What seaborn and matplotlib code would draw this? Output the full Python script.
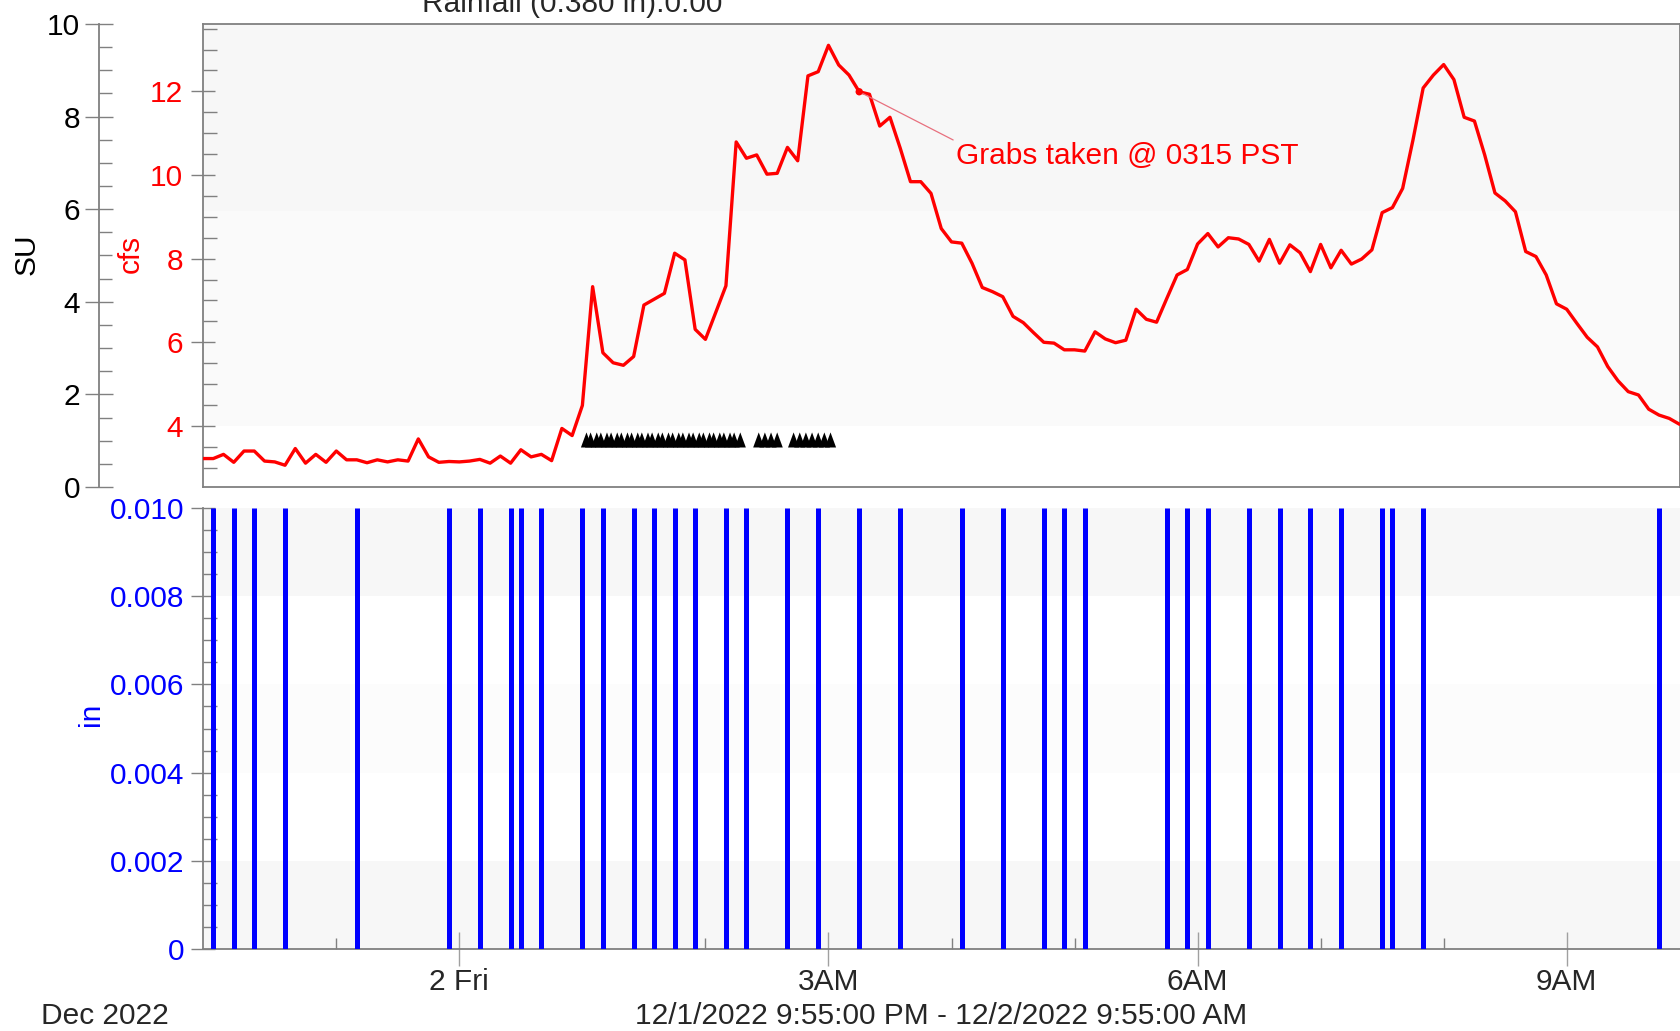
import numpy as np
import pandas as pd
import matplotlib
matplotlib.use("Agg")
import matplotlib.pyplot as plt
import matplotlib.dates as mdates
from matplotlib.ticker import MultipleLocator, FixedLocator, FixedFormatter, FuncFormatter
import seaborn as sns

# ---- data ----
# 5-minute flow record (cfs), 12/1/2022 21:55 -> 12/2/2022 09:55
flow_start = "2022-12-01 21:55"
flow_end = "2022-12-02 09:55"
flow_cfs = [
    3.22,                                                                          # 21:55
    3.22, 3.32, 3.13, 3.40, 3.40, 3.16, 3.14, 3.06, 3.46, 3.11, 3.32, 3.13,        # 22:00
    3.40, 3.19, 3.19, 3.12, 3.19, 3.14, 3.19, 3.16, 3.69, 3.26, 3.13, 3.15,        # 23:00
    3.14, 3.16, 3.20, 3.11, 3.28, 3.11, 3.43, 3.26, 3.32, 3.17, 3.94, 3.77,        # 00:00
    4.49, 7.33, 5.75, 5.51, 5.45, 5.66, 6.89, 7.03, 7.17, 8.13, 7.97, 6.31,        # 01:00
    6.07, 6.71, 7.35, 10.79, 10.40, 10.48, 10.02, 10.04, 10.66, 10.34, 12.37, 12.47,  # 02:00
    13.10, 12.63, 12.39, 11.99, 11.93, 11.17, 11.38, 10.64, 9.84, 9.84, 9.56, 8.72,   # 03:00
    8.40, 8.37, 7.89, 7.31, 7.21, 7.09, 6.62, 6.47, 6.23, 6.00, 5.98, 5.82,        # 04:00
    5.82, 5.79, 6.25, 6.08, 5.99, 6.05, 6.79, 6.55, 6.48, 7.05, 7.61, 7.74,        # 05:00
    8.35, 8.60, 8.28, 8.50, 8.47, 8.34, 7.94, 8.46, 7.89, 8.33, 8.14, 7.69,        # 06:00
    8.34, 7.78, 8.20, 7.87, 7.99, 8.21, 9.10, 9.22, 9.68, 10.83, 12.08, 12.39,     # 07:00
    12.64, 12.28, 11.38, 11.29, 10.48, 9.57, 9.38, 9.12, 8.17, 8.05, 7.61, 6.92,   # 08:00
    6.79, 6.45, 6.12, 5.89, 5.42, 5.08, 4.82, 4.74, 4.40, 4.26, 4.18, 4.04,        # 09:00
]

# rain gauge tips (0.01 in each)
rain_times = [
    "2022-12-01 22:00", "2022-12-01 22:10", "2022-12-01 22:20", "2022-12-01 22:35",
    "2022-12-01 23:10", "2022-12-01 23:55", "2022-12-02 00:10", "2022-12-02 00:25",
    "2022-12-02 00:30", "2022-12-02 00:40", "2022-12-02 01:00", "2022-12-02 01:10",
    "2022-12-02 01:25", "2022-12-02 01:35", "2022-12-02 01:45", "2022-12-02 01:55",
    "2022-12-02 02:10", "2022-12-02 02:20", "2022-12-02 02:40", "2022-12-02 02:55",
    "2022-12-02 03:15", "2022-12-02 03:35", "2022-12-02 04:05", "2022-12-02 04:25",
    "2022-12-02 04:45", "2022-12-02 04:55", "2022-12-02 05:05", "2022-12-02 05:45",
    "2022-12-02 05:55", "2022-12-02 06:05", "2022-12-02 06:25", "2022-12-02 06:40",
    "2022-12-02 06:55", "2022-12-02 07:10", "2022-12-02 07:30", "2022-12-02 07:35",
    "2022-12-02 07:50", "2022-12-02 09:45",
]
rain_in = [
    0.01, 0.01, 0.01, 0.01, 0.01, 0.01, 0.01, 0.01, 0.01, 0.01,
    0.01, 0.01, 0.01, 0.01, 0.01, 0.01, 0.01, 0.01, 0.01, 0.01,
    0.01, 0.01, 0.01, 0.01, 0.01, 0.01, 0.01, 0.01, 0.01, 0.01,
    0.01, 0.01, 0.01, 0.01, 0.01, 0.01, 0.01, 0.01,
]

# sampler events (black triangles)
sample_times = [
    "2022-12-02 01:02", "2022-12-02 01:04", "2022-12-02 01:07", "2022-12-02 01:09",
    "2022-12-02 01:12", "2022-12-02 01:14", "2022-12-02 01:17", "2022-12-02 01:19",
    "2022-12-02 01:22", "2022-12-02 01:24", "2022-12-02 01:27", "2022-12-02 01:29",
    "2022-12-02 01:32", "2022-12-02 01:34", "2022-12-02 01:37", "2022-12-02 01:39",
    "2022-12-02 01:42", "2022-12-02 01:44", "2022-12-02 01:47", "2022-12-02 01:49",
    "2022-12-02 01:52", "2022-12-02 01:54", "2022-12-02 01:57", "2022-12-02 01:59",
    "2022-12-02 02:02", "2022-12-02 02:04", "2022-12-02 02:07", "2022-12-02 02:09",
    "2022-12-02 02:12", "2022-12-02 02:14", "2022-12-02 02:17",
    "2022-12-02 02:26", "2022-12-02 02:29", "2022-12-02 02:32", "2022-12-02 02:35",
    "2022-12-02 02:43", "2022-12-02 02:46", "2022-12-02 02:49", "2022-12-02 02:52",
    "2022-12-02 02:55", "2022-12-02 02:58", "2022-12-02 03:01",
]

grab_time = "2022-12-02 03:15"
grab_label = "Grabs taken @ 0315 PST"
title_text = "Rainfall (0.380 in):0.00"
range_text = "12/1/2022 9:55:00 PM - 12/2/2022 9:55:00 AM"

x_major = ["2022-12-02 00:00", "2022-12-02 03:00", "2022-12-02 06:00", "2022-12-02 09:00"]
x_major_labels = ["2 Fri", "3AM", "6AM", "9AM"]

# ---- styling ----
sns.set_style("white")
plt.rcParams["font.family"] = ["Liberation Sans", "DejaVu Sans"]
FS = 21.5
GREY = "#808080"
RED = "#ff0000"
BLUE = "#0000ff"

W, H = 1680, 1031
fig = plt.figure(figsize=(W / 100, H / 100), dpi=100)

def box(x0, y0, x1, y1):
    return [x0 / W, 1 - y1 / H, (x1 - x0) / W, (y1 - y0) / H]

ax_top = fig.add_axes(box(203, 24, 1679.5, 487))
ax_bot = fig.add_axes(box(203, 508, 1679.5, 949), sharex=ax_top)

flow = pd.DataFrame({"time": pd.date_range(flow_start, flow_end, freq="5min"),
                     "cfs": flow_cfs})

# background bands
ax_top.axhspan(9.15, 14, color="#f7f7f7", zorder=0, lw=0)
ax_top.axhspan(4, 9.15, color="#fafafa", zorder=0, lw=0)
ax_bot.axhspan(0.008, 0.010, color="#f7f7f7", zorder=0, lw=0)
ax_bot.axhspan(0.004, 0.006, color="#fcfcfc", zorder=0, lw=0)
ax_bot.axhspan(0.0, 0.002, color="#f7f7f7", zorder=0, lw=0)

# flow line
sns.lineplot(data=flow, x="time", y="cfs", ax=ax_top, color=RED, lw=2.4, zorder=3)

# sampler triangles
tri = [(-0.37, -0.5), (0.37, -0.5), (0.0, 0.5)]
samples = pd.DataFrame({"time": pd.to_datetime(sample_times)})
samples["level"] = 3.665
sns.scatterplot(data=samples, x="time", y="level", ax=ax_top, marker=tri,
                s=118, color="black", edgecolor="none", linewidth=0, zorder=4)

# grab point + annotation
gt = pd.Timestamp(grab_time)
gv = flow.loc[flow["time"] == gt, "cfs"].iloc[0]
sns.scatterplot(x=[gt], y=[gv], ax=ax_top, color=RED, s=28, edgecolor="none", zorder=5)
ax_top.annotate(grab_label, xy=(gt, gv), xytext=(70, -46), textcoords="offset points",
                ha="left", va="center", color=RED, fontsize=FS,
                arrowprops=dict(arrowstyle="-", color="#e8707e", lw=0.9,
                                shrinkA=0, shrinkB=0, relpos=(0, 1)))

# rainfall bars
rain = pd.DataFrame({"time": pd.to_datetime(rain_times), "in": rain_in})
ax_bot.vlines(rain["time"], 0, rain["in"], color=BLUE, lw=3.6, zorder=3)

# ---- axes setup ----
ax_top.set_xlim(pd.Timestamp(flow_start), pd.Timestamp(flow_end))
ax_top.set_ylim(2.54, 13.61)
ax_bot.set_ylim(0, 0.010)

for ax in (ax_top, ax_bot):
    ax.set_xlabel("")
    ax.set_ylabel("")
    ax.set_facecolor("white")
    for s in ax.spines.values():
        s.set_color(GREY)
        s.set_linewidth(1.3)

ax_bot.spines["top"].set_visible(False)
ax_bot.spines["right"].set_visible(False)

# cfs axis
ax_top.yaxis.set_major_locator(FixedLocator([4, 6, 8, 10, 12]))
ax_top.yaxis.set_minor_locator(MultipleLocator(0.5))
ax_top.tick_params(axis="y", which="major", direction="inout", length=17, width=1,
                   color=GREY, labelcolor=RED, labelsize=FS, pad=6, left=True)
ax_top.tick_params(axis="y", which="minor", direction="in", length=10, width=1,
                   color=GREY, left=True)
ax_top.tick_params(axis="x", which="both", bottom=False, labelbottom=False)

# SU axis
ax_su = ax_top.twinx()
ax_su.set_ylim(0, 10)
ax_su.yaxis.tick_left()
ax_su.spines["left"].set_position(("axes", -0.0705))
for k in ("right", "top", "bottom"):
    ax_su.spines[k].set_visible(False)
ax_su.spines["left"].set_color(GREY)
ax_su.spines["left"].set_linewidth(1.3)
ax_su.yaxis.set_major_locator(MultipleLocator(2))
ax_su.yaxis.set_minor_locator(MultipleLocator(0.5))
ax_su.tick_params(axis="y", which="major", direction="inout", length=20, width=1,
                  color=GREY, labelcolor="black", labelsize=FS, pad=3.5)
ax_su.tick_params(axis="y", which="minor", direction="in", length=9.5, width=1, color=GREY)
ax_su.tick_params(axis="x", which="both", bottom=False, top=False,
                  labelbottom=False, labeltop=False)
ax_su.patch.set_visible(False)

# rainfall axis
ax_bot.yaxis.set_major_locator(MultipleLocator(0.002))
ax_bot.yaxis.set_minor_locator(MultipleLocator(0.0005))
ax_bot.yaxis.set_major_formatter(FuncFormatter(lambda v, p: "0" if abs(v) < 1e-9 else f"{v:.3f}"))
ax_bot.tick_params(axis="y", which="major", direction="inout", length=17, width=1,
                   color=GREY, labelcolor=BLUE, labelsize=FS, pad=5, left=True)
ax_bot.tick_params(axis="y", which="minor", direction="in", length=10, width=1,
                   color=GREY, left=True)

# time axis
ax_bot.xaxis.set_major_locator(FixedLocator(mdates.date2num(pd.to_datetime(x_major))))
ax_bot.xaxis.set_major_formatter(FixedFormatter(x_major_labels))
ax_bot.xaxis.set_minor_locator(mdates.HourLocator())
ax_bot.tick_params(axis="x", which="major", direction="inout", length=24, width=1,
                   color="#a0a0a0", labelsize=FS, pad=2, bottom=True, labelbottom=True)
ax_bot.tick_params(axis="x", which="minor", direction="in", length=8, width=1,
                   color=GREY, bottom=True)

# ---- texts ----
fig.text(27 / W, 1 - 254 / H, "SU", rotation=90, ha="center", va="center",
         fontsize=FS, color="black")
fig.text(131 / W, 1 - 254 / H, "cfs", rotation=90, ha="center", va="center",
         fontsize=FS, color=RED)
fig.text(91 / W, 1 - 714 / H, "in", rotation=90, ha="center", va="center",
         fontsize=FS, color=BLUE)
fig.text(572 / W, 1 - 12 / H, title_text, ha="center", va="baseline", fontsize=FS)
fig.text(41 / W, 1 - 1016 / H, "Dec 2022", ha="left", va="center", fontsize=FS)
fig.text(941 / W, 1 - 1016 / H, range_text, ha="center", va="center", fontsize=FS)

fig.savefig("out.png", dpi=100, facecolor="white")
